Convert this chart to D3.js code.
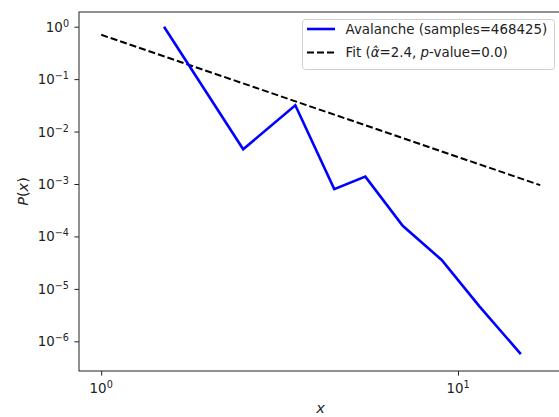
<!DOCTYPE html>
<html>
<head>
<meta charset="utf-8">
<script src="https://cdn.jsdelivr.net/npm/d3@7"></script>
<style>
  html, body { margin: 0; padding: 0; background: #fff; }
  svg { display: block; font-family: "DejaVu Sans", sans-serif; }
</style>
</head>
<body>
<svg id="chart" width="559" height="417"></svg>
<script>
// ---- data ----
const avalancheX = [1.5, 2.5, 3.5, 4.5, 5.5, 7, 9, 11.5, 15];
const avalancheY = [1.0, 0.0046, 0.0317, 0.00080, 0.00138, 0.00016, 0.0000356, 0.0000046, 0.00000057];
const fitX = [1, 17];
const fitY = [0.70, 0.00095];
const xTickExps = [0, 1];
const yTickExps = [0, -1, -2, -3, -4, -5, -6];
const legendLabels = ["Avalanche (samples=468425)", "Fit"];

// ---- layout ----
const W = 559, H = 417;
const L = 79, R = 562, T = 12, B = 371;
const FS = 13.4;

const svg = d3.select("#chart");

const x = d3.scaleLog().domain([Math.pow(10, -0.0622), Math.pow(10, 1.2915)]).range([L, R]);
const y = d3.scaleLog().domain([Math.pow(10, -6.566), Math.pow(10, 0.28)]).range([B, T]);

const clipId = "clipArea";
svg.append("defs").append("clipPath").attr("id", clipId)
  .append("rect").attr("x", L).attr("y", T).attr("width", R - L).attr("height", B - T);

// minor ticks
function minorVals(scale) {
  const [a, b] = scale.domain();
  const out = [];
  for (let e = Math.floor(Math.log10(a)) - 1; e <= Math.ceil(Math.log10(b)); e++) {
    for (let m = 2; m <= 9; m++) {
      const v = m * Math.pow(10, e);
      if (v >= a && v <= b) out.push(v);
    }
  }
  return out;
}

// x axis
const xAxisG = svg.append("g").attr("transform", `translate(0,${B})`);
xAxisG.call(d3.axisBottom(x).tickValues(minorVals(x)).tickSize(2.7).tickFormat(""))
  .call(g => g.select(".domain").remove());
xAxisG.call(d3.axisBottom(x).tickValues(xTickExps.map(e => Math.pow(10, e))).tickSize(4.6).tickFormat(""))
  .call(g => g.select(".domain").remove());
xAxisG.selectAll("line").attr("stroke", "#222").attr("stroke-width", 1);

xTickExps.forEach(e => {
  const t = svg.append("text").attr("x", x(Math.pow(10, e))).attr("y", B + 22)
    .attr("text-anchor", "middle").attr("font-size", FS).attr("fill", "#222");
  t.append("tspan").text("10");
  t.append("tspan").attr("dy", -5).attr("font-size", FS * 0.72).text(e < 0 ? "\u2212" + Math.abs(e) : String(e));
});

// y axis
const yAxisG = svg.append("g").attr("transform", `translate(${L},0)`);
yAxisG.call(d3.axisLeft(y).tickValues(minorVals(y)).tickSize(2.7).tickFormat(""))
  .call(g => g.select(".domain").remove());
yAxisG.call(d3.axisLeft(y).tickValues(yTickExps.map(e => Math.pow(10, e))).tickSize(4.6).tickFormat(""))
  .call(g => g.select(".domain").remove());
yAxisG.selectAll("line").attr("stroke", "#222").attr("stroke-width", 1);

yTickExps.forEach(e => {
  const t = svg.append("text").attr("x", 69).attr("y", y(Math.pow(10, e)) + 5)
    .attr("text-anchor", "end").attr("font-size", FS).attr("fill", "#222");
  t.append("tspan").text("10");
  t.append("tspan").attr("dy", -5).attr("font-size", FS * 0.72).text(e < 0 ? "\u2212" + Math.abs(e) : String(e));
});

// data lines
const line = d3.line().x(d => x(d[0])).y(d => y(d[1]));
const plot = svg.append("g").attr("clip-path", `url(#${clipId})`);
plot.append("path").datum(fitX.map((v, i) => [v, fitY[i]]))
  .attr("d", line).attr("fill", "none").attr("stroke", "#000")
  .attr("stroke-width", 2).attr("stroke-dasharray", "7,3");
plot.append("path").datum(avalancheX.map((v, i) => [v, avalancheY[i]]))
  .attr("d", line).attr("fill", "none").attr("stroke", "#0000ff")
  .attr("stroke-width", 2.6).attr("stroke-linejoin", "miter");

// spines
svg.append("rect").attr("x", L).attr("y", T).attr("width", R - L).attr("height", B - T)
  .attr("fill", "none").attr("stroke", "#222").attr("stroke-width", 1);

// axis labels
svg.append("text").attr("x", (L + R) / 2).attr("y", 413).attr("text-anchor", "middle")
  .attr("font-size", 14.5).attr("font-style", "italic").attr("fill", "#222").text("x");
svg.append("text").attr("transform", `translate(28,${(T + B) / 2}) rotate(-90)`)
  .attr("text-anchor", "middle").attr("font-size", 14.5).attr("fill", "#222")
  .call(t => {
    t.append("tspan").attr("font-style", "italic").text("P");
    t.append("tspan").text("(");
    t.append("tspan").attr("font-style", "italic").text("x");
    t.append("tspan").text(")");
  });

// legend
const lg = svg.append("g");
lg.append("rect").attr("x", 302.5).attr("y", 19.5).attr("width", 252).attr("height", 50)
  .attr("rx", 3).attr("fill", "#fff").attr("fill-opacity", 0.85)
  .attr("stroke", "#d0d0d0").attr("stroke-width", 1);
lg.append("line").attr("x1", 307).attr("x2", 335).attr("y1", 29).attr("y2", 29)
  .attr("stroke", "#0000ff").attr("stroke-width", 2.6);
lg.append("line").attr("x1", 307).attr("x2", 335).attr("y1", 52.5).attr("y2", 52.5)
  .attr("stroke", "#000").attr("stroke-width", 2).attr("stroke-dasharray", "7,3");
lg.append("text").attr("x", 345.5).attr("y", 33.8).attr("font-size", FS).attr("fill", "#222")
  .text(legendLabels[0]);
lg.append("text").attr("x", 345.5).attr("y", 57.3).attr("font-size", FS).attr("fill", "#222")
  .call(t => {
    t.append("tspan").text(legendLabels[1] + " (");
    t.append("tspan").attr("font-style", "italic").text("\u03b1\u0302");
    t.append("tspan").text("=2.4, ");
    t.append("tspan").attr("font-style", "italic").text("p");
    t.append("tspan").text("-value=0.0)");
  });
</script>
</body>
</html>
